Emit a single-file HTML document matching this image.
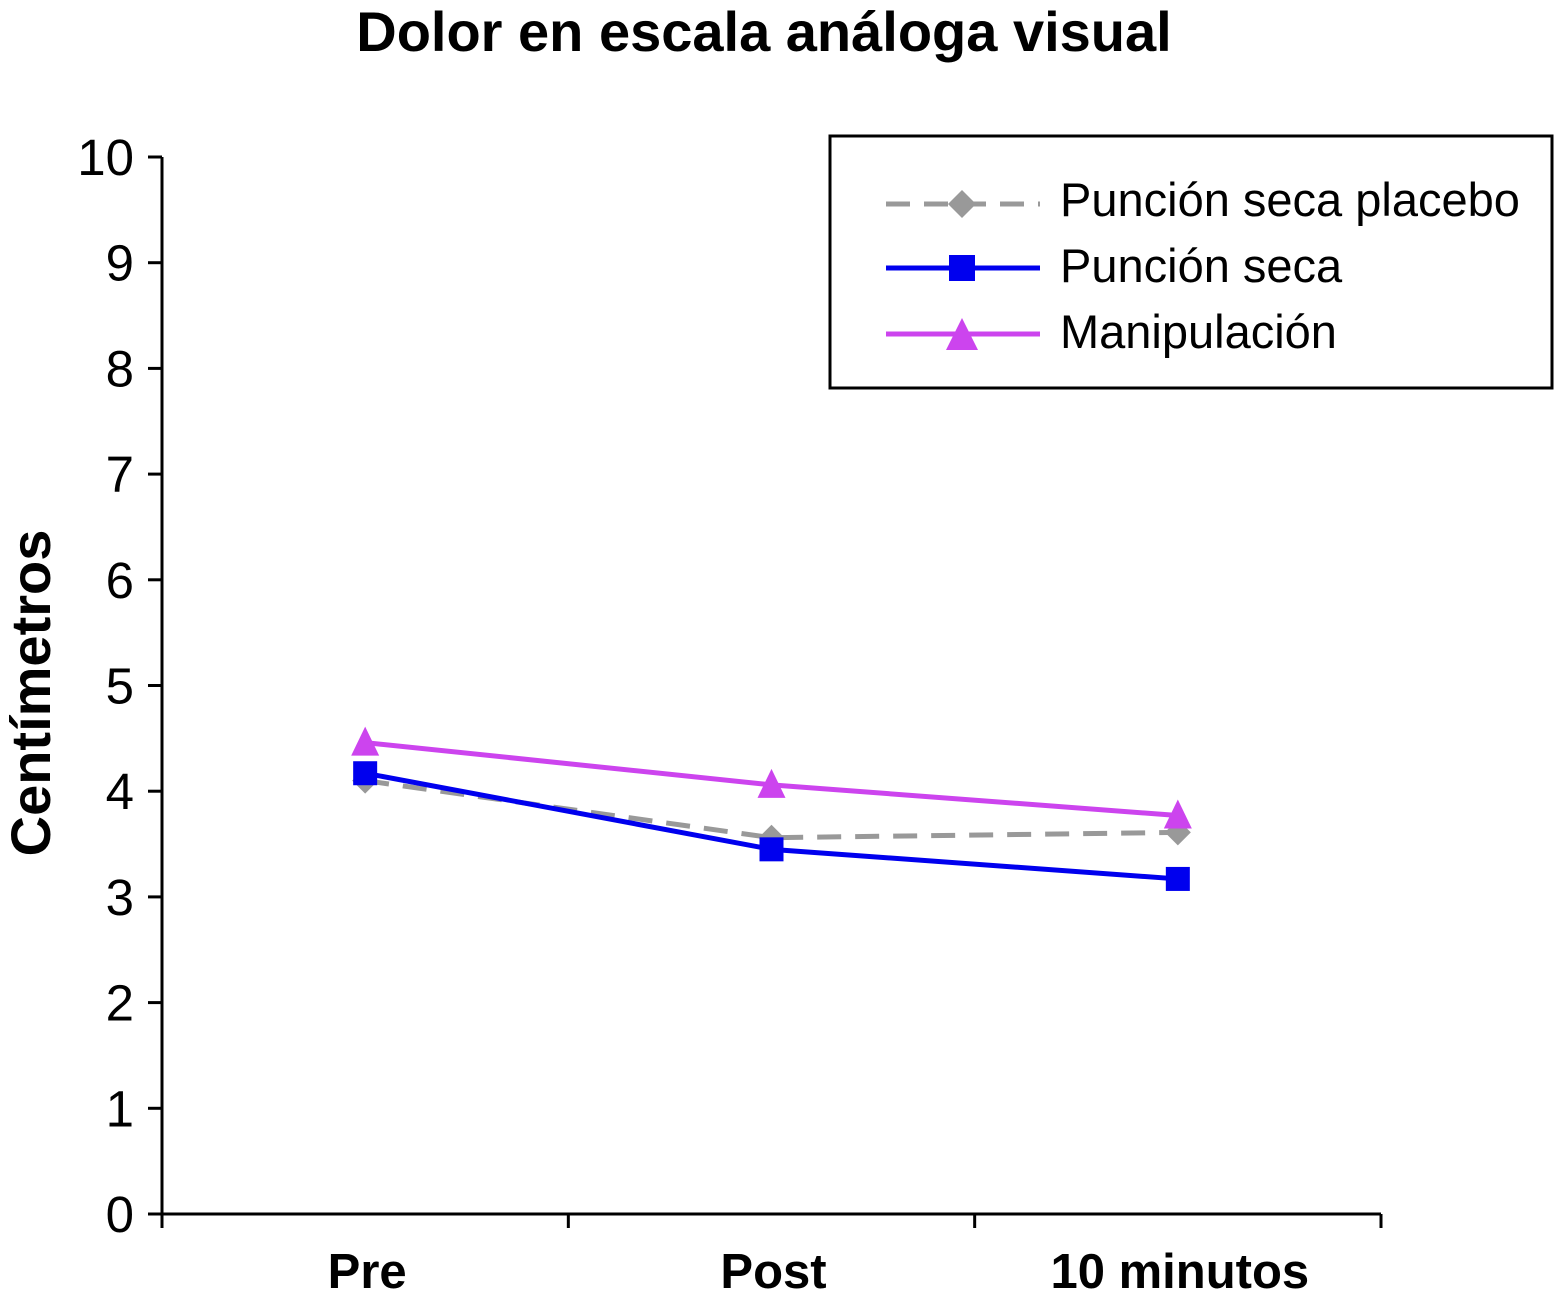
<!DOCTYPE html>
<html><head><meta charset="utf-8"><style>
body{margin:0;background:#fff;}
svg{display:block;font-family:"Liberation Sans",Arial,sans-serif;}
</style></head><body>
<svg id="chart" width="1556" height="1299" viewBox="0 0 1556 1299">
<text x="764" y="51" font-size="56" font-weight="bold" text-anchor="middle">Dolor en escala análoga visual</text>
<text transform="translate(50,693) rotate(-90)" font-size="56" font-weight="bold" text-anchor="middle">Centímetros</text>
<g id="axes"></g>
<g id="series"></g>
<g>
<rect x="830" y="136" width="722" height="252" fill="#fff" stroke="#000" stroke-width="3"/>
<g>
<line x1="886" y1="204" x2="1040" y2="204" stroke="#999" stroke-width="5" stroke-dasharray="24,14"/>
<polygon points="962,190 976,204 962,218 948,204" fill="#999"/>
<text x="1060" y="216" font-size="47">Punción seca placebo</text></g>
<g>
<line x1="886" y1="268" x2="1040" y2="268" stroke="#0000ee" stroke-width="5"/>
<rect x="949" y="255" width="26" height="26" fill="#0000ee"/>
<text x="1060" y="282" font-size="47">Punción seca</text></g>
<g>
<line x1="886" y1="334" x2="1040" y2="334" stroke="#cc44ee" stroke-width="5"/>
<polygon points="962,318 978,350 946,350" fill="#cc44ee"/>
<text x="1060" y="348" font-size="47">Manipulación</text></g>
</g>
</svg>
<script>
const categories=["Pre","Post","10 minutos"];
const placebo=[4.1,3.56,3.61];
const puncion=[4.17,3.45,3.17];
const manip=[4.46,4.06,3.77];
const yTicks=[0,1,2,3,4,5,6,7,8,9,10];
const NS="http://www.w3.org/2000/svg";
const x0=162,x1=1381,y0=1214,y10=157;
const xs=i=>x0+(x1-x0)/categories.length*(i+0.5);
const ys=v=>y0+(y10-y0)*v/10;
function mk(tag,attrs,parent){const e=document.createElementNS(NS,tag);for(const k in attrs)e.setAttribute(k,attrs[k]);parent.appendChild(e);return e;}
const ax=document.getElementById('axes');
let e=mk('line',{x1:x0,y1:y10,x2:x0,y2:y0,stroke:'#000','stroke-width':3},ax);


e=mk('line',{x1:x0,y1:y0,x2:x1,y2:y0,stroke:'#000','stroke-width':3},ax);


yTicks.forEach(t=>{
 mk('line',{x1:x0-14,y1:ys(t),x2:x0,y2:ys(t),stroke:'#000','stroke-width':3},ax);
 const tx=mk('text',{x:x0-28,y:ys(t)+18,'font-size':51,'text-anchor':'end'},ax);tx.textContent=t;
 
 
});
for(let i=0;i<=categories.length;i++){const xx=x0+(x1-x0)/categories.length*i;mk('line',{x1:xx,y1:y0,x2:xx,y2:y0+14,stroke:'#000','stroke-width':3},ax);}
categories.forEach((c,i)=>{const tx=mk('text',{x:xs(i)+2,y:1288,'font-size':49,'font-weight':'bold','text-anchor':'middle'},ax);tx.textContent=c;
 
 });
const sg=document.getElementById('series');
function series(vals,color,dash,marker,name){
 const g=mk('g',{},sg);
 
 
 const pts=vals.map((v,i)=>xs(i)+','+ys(v)).join(' ');
 const a={points:pts,fill:'none',stroke:color,'stroke-width':5};if(dash)a['stroke-dasharray']=dash;
 mk('polyline',a,g);
 vals.forEach((v,i)=>{const x=xs(i),y=ys(v);let m;
  if(marker==='d')m=mk('polygon',{points:`${x},${y-13} ${x+13},${y} ${x},${y+13} ${x-13},${y}`,fill:color},g);
  else if(marker==='s')m=mk('rect',{x:x-12,y:y-12,width:24,height:24,fill:color},g);
  else m=mk('polygon',{points:`${x},${y-16} ${x+14},${y+13} ${x-14},${y+13}`,fill:color},g);
  
  });
}
series(placebo,'#999','24,14','d','series-placebo');
series(puncion,'#0000ee',null,'s','series-puncion-seca');
series(manip,'#cc44ee',null,'t','series-manipulacion');
</script>
</body></html>
